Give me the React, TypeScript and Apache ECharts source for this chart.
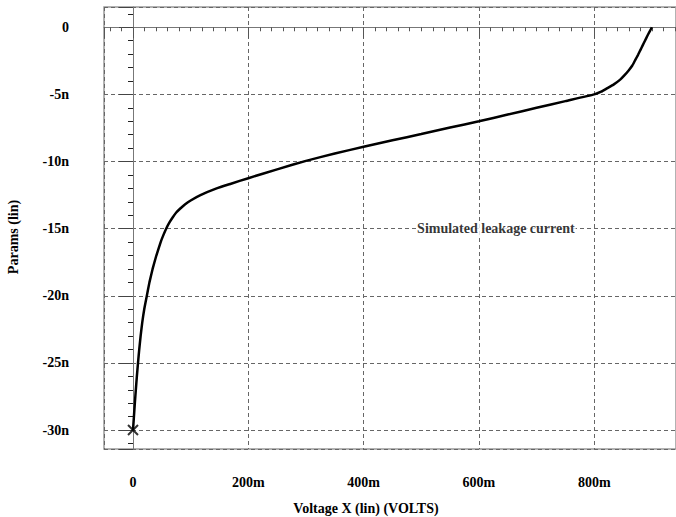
import React, { useEffect, useRef } from "react";
import * as echarts from "echarts";

// X in millivolts, Y in nanoamps
const voltageMv = [0, 1.6, 3.2, 4.9, 6.7, 8.7, 10.8, 13.2, 16, 19.5, 24, 28.5, 34, 40.5, 48, 52.5, 57.5, 63, 69, 75, 82, 90, 100, 117, 145, 170, 200, 250, 300, 350, 400, 450, 500, 550, 600, 650, 700, 750, 800, 812, 822, 834, 845, 853, 860, 866, 871, 876, 880, 884, 888, 892, 896, 900];
const currentNa = [-30, -29, -28, -27, -26, -25, -24, -23, -22, -21, -20, -19, -18, -17, -16, -15.5, -15, -14.55, -14.15, -13.8, -13.5, -13.2, -12.9, -12.5, -12, -11.65, -11.24, -10.58, -9.95, -9.4, -8.9, -8.42, -7.95, -7.47, -7.0, -6.5, -6.0, -5.5, -5.0, -4.8, -4.55, -4.25, -3.9, -3.55, -3.2, -2.85, -2.45, -2.05, -1.7, -1.35, -1.0, -0.65, -0.32, 0];
const markerPoint = [0, -30];
const annotationText = "Simulated leakage current";
const annotationAt = [491, -15];
const xRange = [-50.3, 941.8];
const yRange = [-31.41, 1.51];

const FONT = "'Liberation Serif', 'Times New Roman', serif";

export default function App() {
  const ref = useRef<HTMLDivElement>(null);
  useEffect(() => {
    document.body.style.margin = "0";
    const chart = echarts.init(ref.current!, null, { renderer: "svg" });
    const lineData = voltageMv.map((v, i) => [v, currentNa[i]]);
    const labelStyle = { fontFamily: FONT, fontWeight: "bold" as const, fontSize: 14, color: "#000" };
    chart.setOption({
      animation: false,
      backgroundColor: "#fff",
      grid: {
        left: 104, top: 7, right: 0, bottom: 68,
        containLabel: false,
        outerBoundsMode: "none",
        show: true, borderColor: "#999", borderWidth: 1.5, backgroundColor: "transparent",
      },
      xAxis: {
        type: "value",
        min: xRange[0],
        max: xRange[1],
        splitNumber: 5,
        minInterval: 200,
        maxInterval: 200,
        offset: 4,
        name: "Voltage X (lin) (VOLTS)",
        nameLocation: "middle",
        nameGap: 48,
        nameTextStyle: { ...labelStyle, padding: [0, 48, 0, 0] },
        axisLine: { show: true, lineStyle: { color: "#777", width: 1 } },
        axisTick: { show: true, length: 11, lineStyle: { color: "#555" } },
        minorTick: { show: true, splitNumber: 10, length: 4, lineStyle: { color: "#555" } },
        axisLabel: {
          ...labelStyle,
          margin: 22,
          formatter: (v: number) => {
            const r = Math.round(v);
            if (Math.abs(v - r) > 1e-6 || r % 200 !== 0) return "";
            return r === 0 ? "0" : `${r}m`;
          },
        },
        splitLine: { show: true, lineStyle: { color: "#666", type: [4, 3], width: 1 } },
      },
      yAxis: {
        type: "value",
        min: yRange[0],
        max: yRange[1],
        splitNumber: 6,
        minInterval: 5,
        maxInterval: 5,
        name: "Params (lin)",
        nameLocation: "middle",
        nameGap: 84,
        nameTextStyle: { ...labelStyle, padding: [0, 18, 0, 0] },
        axisLine: { show: true, lineStyle: { color: "#777", width: 1 } },
        axisTick: { show: true, length: 14, lineStyle: { color: "#444" } },
        minorTick: { show: true, splitNumber: 5, length: 5, lineStyle: { color: "#222" } },
        axisLabel: {
          ...labelStyle,
          margin: 35,
          padding: [0, 0, 8, 0],
          formatter: (v: number) => {
            const r = Math.round(v);
            if (Math.abs(v - r) > 1e-6 || r % 5 !== 0) return "";
            return r === 0 ? "0" : `${r}n`;
          },
        },
        splitLine: { show: true, lineStyle: { color: "#666", type: [4, 3], width: 1 } },
      },
      series: [
        {
          type: "line",
          data: lineData,
          showSymbol: false,
          smooth: 0.15,
          lineStyle: { color: "#000", width: 2.5 },
          z: 3,
        },
        {
          type: "scatter",
          data: [markerPoint],
          symbol: "path://M0,0L10,10M10,0L0,10",
          symbolSize: 10,
          itemStyle: { color: "none", borderColor: "#000", borderWidth: 2 },
          z: 4,
        },
        {
          type: "scatter",
          data: [annotationAt],
          symbolSize: 0,
          label: {
            show: true,
            position: "right",
            distance: 0,
            formatter: annotationText,
            ...labelStyle,
            backgroundColor: "#fff",
            padding: [0, 1],
          },
          z: 5,
        },
      ],
    });
    return () => chart.dispose();
  }, []);
  return <div ref={ref} style={{ position: "fixed", left: 0, top: 0, width: 676, height: 517 }} />;
}
